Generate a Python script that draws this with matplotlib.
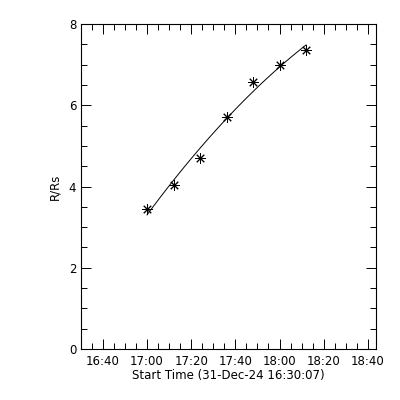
import datetime as dt
import numpy as np
import matplotlib
matplotlib.use("Agg")
import matplotlib.pyplot as plt
import matplotlib.dates as mdates

# height-time points (C2 cadence, 12 min)
times = ["17:00", "17:12", "17:24", "17:36", "17:48", "18:00", "18:12"]
heights = [3.45, 4.04, 4.70, 5.71, 6.57, 7.00, 7.36]
start_label = "Start Time (31-Dec-24 16:30:07)"

day = dt.datetime(2024, 12, 31)
t = [day + dt.timedelta(hours=int(s[:2]), minutes=int(s[3:])) for s in times]
t0 = day + dt.timedelta(hours=16, minutes=30, seconds=7)
mins = np.array([(x - t0).total_seconds() / 60.0 for x in t])

# second order fit, as in the usual height-time plots
coef = np.polyfit(mins, heights, 2)
fit_m = np.linspace(mins[0], mins[-1], 60)
fit_t = [t0 + dt.timedelta(minutes=float(m)) for m in fit_m]
fit_h = np.polyval(coef, fit_m)

plt.rcParams["font.family"] = "DejaVu Sans"
fig = plt.figure(figsize=(4, 4), dpi=100)
ax = fig.add_axes([0.2025, 0.1275, 0.7375, 0.8125])

ax.plot(fit_t, fit_h, color="black", lw=0.7)
ax.plot(t, heights, linestyle="none", marker=(8, 2, 0), markersize=7.5,
        color="black", markeredgewidth=0.7)

ax.set_xlim(t0, day + dt.timedelta(hours=18, minutes=43, seconds=40))
ax.set_ylim(0, 8)

ax.xaxis.set_major_locator(mdates.MinuteLocator(byminute=[0, 20, 40]))
ax.xaxis.set_minor_locator(mdates.MinuteLocator(byminute=range(0, 60, 5)))
ax.xaxis.set_major_formatter(mdates.DateFormatter("%H:%M"))
ax.set_yticks([0, 2, 4, 6, 8])
ax.set_yticks(np.arange(0, 8.01, 0.5), minor=True)

ax.tick_params(which="both", direction="in", top=True, right=True,
               labelsize=8.5, width=0.7)
ax.tick_params(which="major", length=7)
ax.tick_params(which="minor", length=4)
ax.tick_params(axis="x", pad=4)
for s in ax.spines.values():
    s.set_linewidth(0.8)

ax.set_xlabel(start_label, fontsize=8.5, labelpad=1)
ax.set_ylabel("R/Rs", fontsize=8.5, labelpad=5)

fig.savefig("out.png", dpi=100)
